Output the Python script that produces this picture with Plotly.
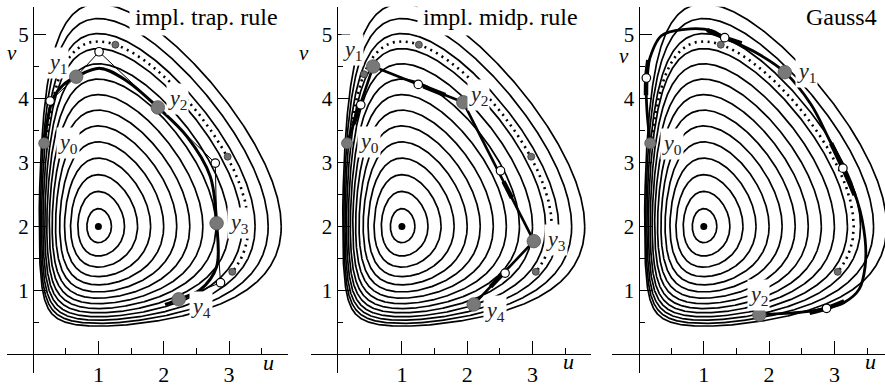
import numpy as np
import plotly.graph_objects as go

W, H = 885, 387
FONT = "Liberation Serif"

# ---------------------------------------------------------------- data
# level curves of the invariant, each passing through (u, 2)
level_u = [1.2, 1.4, 1.6, 1.8, 2.0, 2.2, 2.4, 2.6, 2.8, 3.0, 3.2, 3.4, 3.6, 3.8]
eq_u, eq_v = [1.0], [2.0]                      # equilibrium point

# exact solution at t = h, 2h, 3h, 4h
exact_u = [0.42, 1.26, 2.98, 3.05]
exact_v = [4.38, 4.84, 3.09, 1.29]
y0_u, y0_v = 0.18, 3.30                        # initial value

# implicit trapezoidal rule: steps y_n and intermediate points
trap_yu = [0.17, 0.66, 1.91, 2.81, 2.23]
trap_yv = [3.30, 4.34, 3.86, 2.05, 0.86]
trap_wu = [0.26, 1.01, 2.79, 2.87]
trap_wv = [3.96, 4.73, 2.99, 1.12]
trap_curve_u = [0.17, 0.21, 0.31, 0.46, 0.66, 1.03, 1.44, 1.91, 2.36, 2.71, 2.81, 2.81, 2.56, 2.23, 2.02]
trap_curve_v = [3.30, 3.60, 4.01, 4.21, 4.34, 4.47, 4.27, 3.86, 3.40, 2.79, 2.05, 1.37, 1.01, 0.86, 0.78]
trap_lab_u = [0.54, 0.37, 2.21, 3.15, 2.57]
trap_lab_v = [3.30, 4.56, 3.99, 2.06, 0.74]

# implicit midpoint rule
mid_yu = [0.16, 0.56, 1.94, 3.02, 2.10]
mid_yv = [3.30, 4.50, 3.94, 1.77, 0.78]
mid_wu = [0.37, 1.25, 2.51, 2.58]
mid_wv = [3.90, 4.22, 2.87, 1.27]
mid_bulge_from = [0.25, 0.56, 0.57, 0.50]      # thick pieces along each step
mid_bulge_to = [0.45, 0.80, 0.69, 0.72]
mid_lab_u = [0.50, 0.25, 2.18, 3.36, 2.43]
mid_lab_v = [3.32, 4.75, 4.06, 1.79, 0.67]

# Gauss collocation, order 4
g_yu = [0.18, 2.24, 1.85]
g_yv = [3.30, 4.41, 0.62]
g_wu = [0.12, 1.32, 3.13, 2.88]
g_wv = [4.32, 4.95, 2.91, 0.72]
g_curve_u = [0.18, 0.13, 0.12, 0.15, 0.35, 0.71, 1.12, 1.32, 1.83, 2.24, 2.64, 2.90, 3.13,
             3.35, 3.47, 3.47, 3.38, 3.15, 2.88, 2.50, 1.85]
g_curve_v = [3.30, 3.80, 4.32, 4.55, 4.98, 5.08, 5.06, 4.95, 4.70, 4.41, 3.91, 3.40, 2.91,
             2.40, 1.80, 1.37, 1.02, 0.81, 0.72, 0.66, 0.62]
g_bulge_u = [[0.115, 0.12, 0.15], [1.05, 1.32, 1.58], [2.95, 3.13, 3.31], [2.62, 2.88, 3.15]]
g_bulge_v = [[4.05, 4.32, 4.60], [5.07, 4.95, 4.86], [3.30, 2.91, 2.49], [0.65, 0.72, 0.83]]
g_lab_u = [0.51, 2.58, 1.83]
g_lab_v = [3.29, 4.41, 0.93]

titles = ["impl. trap. rule", "impl. midp. rule", "Gauss4"]
title_right_px = [284, 584, 883]

# ---------------------------------------------------------------- geometry
S_U, S_V = 65.3, 65.5          # pixels per unit
Y0_PX = 362.8                  # pixel row of v = 0
TOP_PX, BOT_PX = 7, 382
panels = [(7, 288, 33.1), (310.5, 591, 336.6), (612, 885, 638.5)]  # x0, x1, pixel of u = 0
u_lab_px = [(268, 371), (568, 370), (870, 370)]
v_lab_px = [(12, 54), (304, 54), (624, 57)]


def invariant(u, v):
    return np.log(u) - u + 2 * np.log(v) - v


def level_curve(c, th):
    """Points of {I = c} along rays from the equilibrium."""
    cu, cv = np.cos(th), np.sin(th)
    with np.errstate(divide="ignore"):
        ru = np.where(cu < -1e-12, -1.0 / np.where(cu < -1e-12, cu, -1), np.inf)
        rv = np.where(cv < -1e-12, -2.0 / np.where(cv < -1e-12, cv, -1), np.inf)
    hi = np.minimum(np.minimum(ru, rv), 40.0) * (1 - 1e-9)
    lo = np.zeros_like(th)
    for _ in range(60):
        mid = 0.5 * (lo + hi)
        inside = invariant(1 + mid * cu, 2 + mid * cv) > c
        lo = np.where(inside, mid, lo)
        hi = np.where(inside, hi, mid)
    r = 0.5 * (lo + hi)
    return 1 + r * cu, 2 + r * cv


theta = np.linspace(0, 2 * np.pi, 1441)
lev_x, lev_y = [], []
for uk in level_u:
    cx, cy = level_curve(invariant(uk, 2.0), theta)
    lev_x += list(np.round(cx, 4)) + [None]
    lev_y += list(np.round(cy, 4)) + [None]

# exact trajectory from y0 to the last exact point (clockwise)
c_exact = float(np.mean(invariant(np.array(exact_u), np.array(exact_v))))
th0 = np.arctan2(y0_v - 2, y0_u - 1)
th1 = np.arctan2(exact_v[-1] - 2, exact_u[-1] - 1)
ex_x, ex_y = level_curve(c_exact, np.linspace(th0, th1, 500))

fig = go.Figure()


def axes(i):
    s = "" if i == 0 else str(i + 1)
    return "x" + s, "y" + s


def add(i, **kw):
    xa, ya = axes(i)
    fig.add_trace(go.Scatter(xaxis=xa, yaxis=ya, showlegend=False, hoverinfo="skip",
                             opacity=1, **kw))


for i in range(3):
    add(i, x=lev_x, y=lev_y, mode="lines", line=dict(color="black", width=1.7))
    add(i, x=np.round(ex_x, 4), y=np.round(ex_y, 4), mode="lines",
        line=dict(color="black", width=2.6, dash="2px,4.5px"))

# trapezoidal rule
add(0, x=trap_curve_u, y=trap_curve_v, mode="lines", line=dict(color="black", width=3, shape="spline"))
tu, tv = [], []
for k in range(4):
    tu += [trap_yu[k], trap_wu[k]]
    tv += [trap_yv[k], trap_wv[k]]
tu.append(trap_yu[-1])
tv.append(trap_yv[-1])
add(0, x=tu, y=tv, mode="lines", line=dict(color="black", width=1))

# midpoint rule
add(1, x=mid_yu, y=mid_yv, mode="lines", line=dict(color="black", width=2.6))
for k in range(4):
    a, b = mid_bulge_from[k], mid_bulge_to[k]
    bu = [mid_yu[k] + f * (mid_yu[k + 1] - mid_yu[k]) for f in (a, b)]
    bv = [mid_yv[k] + f * (mid_yv[k + 1] - mid_yv[k]) for f in (a, b)]
    add(1, x=bu, y=bv, mode="lines", line=dict(color="black", width=4.5))

# Gauss4
add(2, x=g_curve_u, y=g_curve_v, mode="lines", line=dict(color="black", width=2.8, shape="spline"))
for bu, bv in zip(g_bulge_u, g_bulge_v):
    add(2, x=bu, y=bv, mode="lines", line=dict(color="black", width=4.5, shape="spline"))

exact_sel = [[0, 1, 2, 3], [0, 1, 2, 3], [1, 3]]
ys = [(trap_yu, trap_yv), (mid_yu, mid_yv), (g_yu, g_yv)]
ws = [(trap_wu, trap_wv), (mid_wu, mid_wv), (g_wu, g_wv)]
labs = [(trap_lab_u, trap_lab_v), (mid_lab_u, mid_lab_v), (g_lab_u, g_lab_v)]

annotations = []
for i in range(3):
    xa, ya = axes(i)
    add(i, x=[exact_u[k] for k in exact_sel[i]], y=[exact_v[k] for k in exact_sel[i]], mode="markers",
        marker=dict(size=7, color="#6e6e6e", opacity=1, line=dict(color="#333", width=0.8)))
    add(i, x=ws[i][0], y=ws[i][1], mode="markers",
        marker=dict(size=8.5, color="white", opacity=1, line=dict(color="black", width=1.2)))
    sizes = [11] + [13.5] * (len(ys[i][0]) - 1)
    add(i, x=ys[i][0], y=ys[i][1], mode="markers",
        marker=dict(size=sizes, color="#787878", opacity=1, line=dict(color="#555", width=0.8)))
    add(i, x=eq_u, y=eq_v, mode="markers", marker=dict(size=7, color="black", opacity=1))

    for n, (lu, lv) in enumerate(zip(*labs[i])):
        annotations.append(dict(xref=xa, yref=ya, x=lu, y=lv, text=f"<i>y</i><sub>{n}</sub>",
                                xanchor="center", yanchor="middle",
                                showarrow=False, bgcolor="white", borderpad=1,
                                font=dict(family=FONT, size=22, color="#222")))
    annotations.append(dict(xref="paper", yref="paper", x=title_right_px[i] / W, y=1 - 17 / H,
                            xanchor="right", yanchor="middle", text=titles[i], showarrow=False,
                            bgcolor="white", borderpad=5,
                            font=dict(family=FONT, size=24, color="black")))
    annotations.append(dict(xref="paper", yref="paper", x=u_lab_px[i][0] / W, y=1 - u_lab_px[i][1] / H,
                            xanchor="center", yanchor="middle",
                            text="<i>u</i>", showarrow=False,
                            font=dict(family=FONT, size=22, color="black")))
    annotations.append(dict(xref="paper", yref="paper", x=v_lab_px[i][0] / W, y=1 - v_lab_px[i][1] / H,
                            xanchor="center", yanchor="middle",
                            text="<i>v</i>", showarrow=False,
                            font=dict(family=FONT, size=21, color="black")))

layout = dict(width=W, height=H, margin=dict(l=0, r=0, t=0, b=0), autosize=False,
              paper_bgcolor="white", plot_bgcolor="white", annotations=annotations,
              font=dict(family=FONT, size=22, color="black"))
for i, (x0, x1, ox) in enumerate(panels):
    s = "" if i == 0 else str(i + 1)
    layout["xaxis" + s] = dict(
        domain=[x0 / W, x1 / W], range=[(x0 - ox) / S_U, (x1 - ox) / S_U],
        anchor="free", position=1 - Y0_PX / H, showline=True, linecolor="black", linewidth=1.3,
        showgrid=False, zeroline=False, tickmode="array", tickvals=[1, 2, 3],
        ticks="inside", ticklen=13, tickwidth=1.3, tickcolor="black",
        tickfont=dict(family=FONT, size=22),
        minor=dict(tickmode="array", tickvals=[0.5, 1.5, 2.5, 3.5], ticks="inside",
                   ticklen=6, tickwidth=1.3, tickcolor="black", showgrid=False),
    )
    layout["yaxis" + s] = dict(
        domain=[1 - BOT_PX / H, 1 - TOP_PX / H],
        range=[(Y0_PX - BOT_PX) / S_V, (Y0_PX - TOP_PX) / S_V],
        anchor="free", position=ox / W, showline=True, linecolor="black", linewidth=1.3,
        showgrid=False, zeroline=False, tickmode="array", tickvals=[1, 2, 3, 4, 5],
        ticks="inside", ticklen=12, tickwidth=1.3, tickcolor="black",
        tickfont=dict(family=FONT, size=21),
        minor=dict(tickmode="array", tickvals=[0.5, 1.5, 2.5, 3.5, 4.5], ticks="inside",
                   ticklen=5, tickwidth=1.3, tickcolor="black", showgrid=False),
    )
fig.update_layout(**layout)
fig.write_html("out.html")
